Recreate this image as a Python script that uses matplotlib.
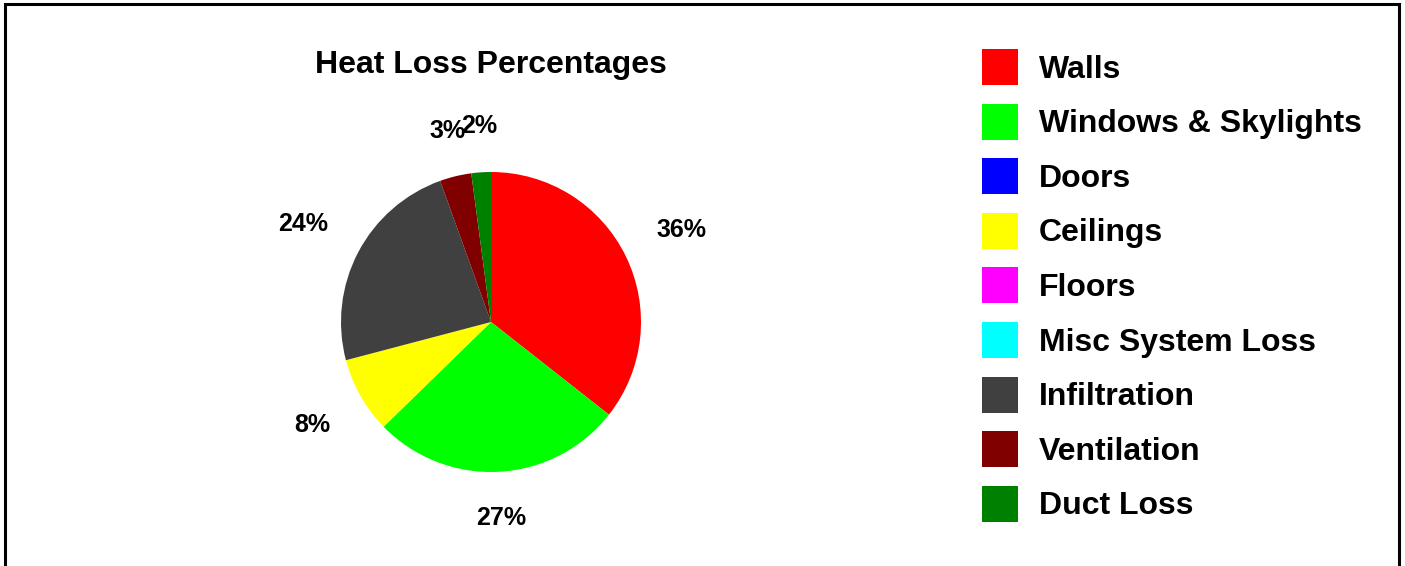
import numpy as np
import matplotlib.pyplot as plt
from matplotlib.patches import Patch, Rectangle

plt.rcParams['font.family'] = ['Liberation Sans', 'DejaVu Sans']
plt.rcParams['font.weight'] = 'bold'

categories = ['Walls', 'Windows & Skylights', 'Doors', 'Ceilings', 'Floors',
              'Misc System Loss', 'Infiltration', 'Ventilation', 'Duct Loss']
percentages = [35.6, 27.1, 0, 8.2, 0, 0, 23.6, 3.4, 2.1]
colors = ['#FF0000', '#00FF00', '#0000FF', '#FFFF00', '#FF00FF',
          '#00FFFF', '#404040', '#800000', '#008000']

W, H = 1405, 566
fig = plt.figure(figsize=(W / 100, H / 100), dpi=100)

# pie axes: centre (491, 322) px, radius 150 px
cx, cy, r = 491, 322, 150
ax = fig.add_axes([(cx - r) / W, (H - cy - r) / H, 2 * r / W, 2 * r / H])

wedges, _ = ax.pie(percentages, colors=colors, startangle=90,
                   counterclock=False, radius=1)

# labels placed just outside the pie, text box touching the ray (Excel style)
total = sum(percentages)
label_r = 1.227
for w, v in zip(wedges, percentages):
    if v <= 0:
        continue
    ang = np.deg2rad((w.theta1 + w.theta2) / 2)
    c, s = np.cos(ang), np.sin(ang)
    ha = 'left' if c > 0.3 else ('right' if c < -0.3 else 'center')
    va = 'bottom' if s > 0.1 else ('top' if s < -0.1 else 'center')
    ax.text(label_r * c, label_r * s, '%d%%' % round(v / total * 100),
            ha=ha, va=va, fontsize=18, fontweight='bold', clip_on=False)

ax.set_xlim(-1, 1)
ax.set_ylim(-1, 1)
ax.set_aspect('equal')
ax.axis('off')

fig.text(cx / W, 1 - 73 / H, 'Heat Loss Percentages', ha='center', va='baseline',
         fontsize=23, fontweight='bold')

handles = [Patch(facecolor=c, edgecolor='none') for c in colors]
fig.legend(handles, categories, loc='upper left',
           bbox_to_anchor=(982 / W, 1 - 49 / H), frameon=False,
           prop={'size': 23, 'weight': 'bold'},
           handlelength=1.13, handleheight=1.36, handletextpad=0.66,
           labelspacing=0.58, borderpad=0, borderaxespad=0)

# outer frame (open at the bottom edge)
fig.add_artist(Rectangle((5 / W, -0.05), (1399 - 5) / W, 1.05 - 4 / H,
                         fill=False, edgecolor='black', linewidth=2.2,
                         transform=fig.transFigure))

fig.savefig('out.png', dpi=100)
